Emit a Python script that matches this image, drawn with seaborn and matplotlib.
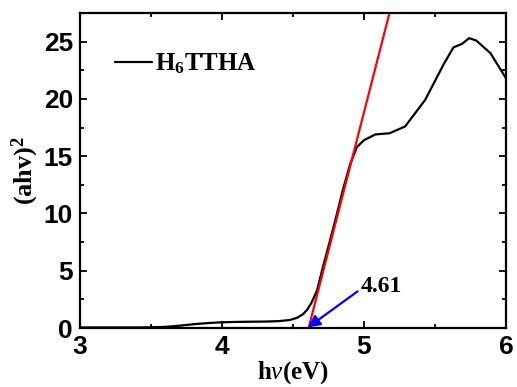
import matplotlib
matplotlib.use("Agg")
import matplotlib.pyplot as plt
import seaborn as sns
import pandas as pd
from matplotlib.ticker import MultipleLocator

sns.set_theme(style="ticks")
plt.rcParams['font.family'] = ['Liberation Sans', 'DejaVu Sans']
plt.rcParams['mathtext.fontset'] = 'custom'
plt.rcParams['mathtext.rm'] = 'Liberation Serif:bold'
plt.rcParams['mathtext.bf'] = 'Liberation Serif:bold'
plt.rcParams['mathtext.it'] = 'Liberation Serif:italic'
for k in ['text.color', 'axes.labelcolor', 'xtick.color', 'ytick.color', 'axes.edgecolor']:
    plt.rcParams[k] = 'black'

# data
hv = [3.0, 3.2, 3.4, 3.5, 3.6, 3.7, 3.8, 3.9, 4.0, 4.1, 4.2, 4.3, 4.4, 4.48, 4.53, 4.57,
      4.6, 4.63, 4.67, 4.71, 4.76, 4.81, 4.85, 4.9, 4.95, 5.0, 5.08, 5.18, 5.29,
      5.43, 5.56, 5.63, 5.69, 5.74, 5.79, 5.89, 6.0]
ahv2 = [0.05, 0.05, 0.05, 0.06, 0.1, 0.2, 0.33, 0.43, 0.5, 0.53, 0.55, 0.56, 0.6, 0.7, 0.9, 1.2,
        1.6, 2.2, 3.3, 5.3, 7.6, 10.0, 12.0, 14.2, 15.8, 16.4, 16.9, 17.0, 17.6,
        19.9, 23.0, 24.5, 24.8, 25.3, 25.1, 24.0, 21.8]
fit_x = [4.61, 5.25]
fit_y = [0.0, 30.9]
series_label = r"H$_\mathbf{6}$TTHA"
gap_label = "4.61"

df = pd.DataFrame({"hv": hv, "ahv2": ahv2})
dfit = pd.DataFrame({"x": fit_x, "y": fit_y})

fig, ax = plt.subplots(figsize=(5.17, 3.87), dpi=100)
fig.subplots_adjust(left=80/517, right=506/517, bottom=1-328/387, top=1-13/387)

sns.lineplot(data=df, x="hv", y="ahv2", ax=ax, color="black", linewidth=1.6, label=series_label)
sns.lineplot(data=dfit, x="x", y="y", ax=ax, color="red", linewidth=1.6, legend=False)

ax.set_xlim(3, 6)
ax.set_ylim(0, 27.5)
ax.xaxis.set_major_locator(MultipleLocator(1))
ax.xaxis.set_minor_locator(MultipleLocator(0.5))
ax.yaxis.set_major_locator(MultipleLocator(5))
ax.yaxis.set_minor_locator(MultipleLocator(2.5))
ax.tick_params(which="both", direction="in", top=True, right=True, width=1.3, colors="black")
ax.tick_params(which="major", length=5, labelsize=19)
ax.tick_params(axis="x", which="major", pad=5)
ax.tick_params(axis="y", which="major", pad=5)
ax.tick_params(which="minor", length=3)
for lab in ax.get_xticklabels() + ax.get_yticklabels():
    lab.set_fontweight("bold")
for s in ax.spines.values():
    s.set_linewidth(1.6)
    s.set_color("black")

serif = ['Liberation Serif', 'DejaVu Serif']
ax.set_xlabel(r"h$\nu$(eV)", fontfamily=serif, fontweight="bold", fontsize=18, labelpad=0)
ax.set_ylabel(r"(ahv)$^\mathbf{2}$", fontfamily=serif, fontweight="bold", fontsize=19, labelpad=2)

leg = ax.legend(loc="upper left", bbox_to_anchor=(0.03, 0.95), frameon=False,
                prop={"family": serif, "weight": "bold", "size": 18},
                handlelength=1.45, handletextpad=0.15)

ax.annotate("", xy=(4.605, 0.05), xytext=(4.955, 3.2),
            arrowprops=dict(arrowstyle="-|>", color="blue", lw=1.6, shrinkA=0, shrinkB=0,
                            mutation_scale=18))
ax.text(4.975, 3.6, gap_label, fontfamily=serif, fontweight="bold", fontsize=17,
        va="center", ha="left")

fig.savefig("out.png", dpi=100)
